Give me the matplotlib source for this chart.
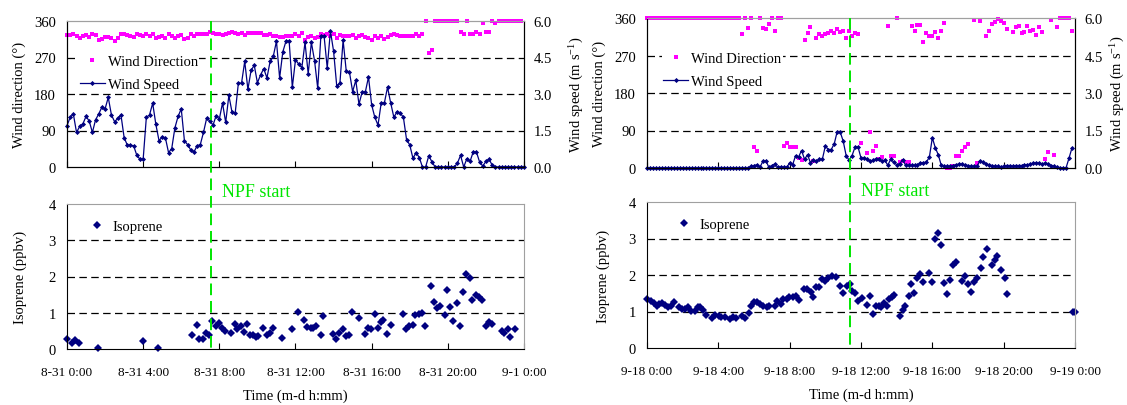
import numpy as np
import matplotlib as mpl
mpl.use('Agg')
import matplotlib.pyplot as plt
from matplotlib import transforms
from matplotlib.lines import Line2D

plt.rcParams['font.family'] = ['Liberation Serif', 'DejaVu Serif']
plt.rcParams['mathtext.fontset'] = 'custom'
plt.rcParams['mathtext.rm'] = 'Liberation Serif'
plt.rcParams['mathtext.it'] = 'Liberation Serif:italic'

# ---------------- data: 31 Aug (10-min wind data, 0:00 .. 24:00) ----------------
aug_speed = [
    1.70, 2.04, 2.18, 1.42, 1.67, 1.77, 2.08, 1.89, 1.42, 1.94,
    2.18, 2.46, 2.39, 2.86, 2.14, 1.86, 2.00, 2.14, 1.21, 0.90,
    0.90, 0.87, 0.48, 0.32, 0.32, 2.04, 2.14, 2.62, 1.75, 1.08,
    1.24, 1.20, 0.59, 0.76, 1.61, 2.08, 2.39, 1.08, 0.92, 0.70,
    0.62, 0.87, 0.92, 1.42, 2.00, 1.90, 1.72, 2.11, 1.97, 2.63,
    1.83, 2.94, 2.25, 2.22, 3.45, 3.45, 4.34, 3.19, 3.97, 4.18,
    3.46, 3.79, 4.04, 3.66, 4.34, 4.55, 5.17,
    3.66, 4.73, 5.17, 5.17, 3.28, 4.41, 4.23, 4.08, 5.12, 3.83,
    5.12, 4.37, 3.24, 5.39, 5.39, 4.07, 5.59, 4.76, 3.32, 3.46,
    5.21, 3.93, 3.90, 3.10, 3.56, 2.58, 3.08, 3.08, 3.70, 2.55,
    2.04, 1.72, 2.63, 2.63, 3.28, 2.63, 2.04, 2.28, 2.22, 2.04,
    1.12, 0.91, 0.36, 0.59, 0.39, 0.00, 0.00, 0.46, 0.21,
    0.00, 0.00, 0.00, 0.00, 0.00, 0.00, 0.00,
    0.15, 0.48, 0.00, 0.34, 0.23, 0.62, 0.62, 0.21, 0.04, 0.23, 0.32, 0.07,
    0.00, 0.00, 0.00, 0.00, 0.00, 0.00, 0.00, 0.00, 0.00, 0.00]

aug_dir = [
    325, 325, 329, 324, 319, 324, 325, 321, 329, 325,
    313, 315, 321, 321, 317, 310, 319, 329, 327, 325, 323,
    321, 327, 325, 324, 329, 324, 329, 319, 321, 324,
    319, 329, 322, 319, 324, 325, 315, 319, 327, 324, 328,
    329, 327, 329, 333, 330, 329, 329, 325, 329, 330,
    334, 330, 329, 330, 325, 331, 330, 330, 330, 330, 326,
    325, 327, 324, 324,
    321, 321, 324, 324, 324, 329, 324, 330, 313, 321, 322,
    319, 321, 327, 325, 327, 324, 327, 319, 325, 324,
    324, 324, 325, 319, 324, 326, 321, 319, 313, 324, 319,
    324, 315, 321, 325, 329, 325, 324, 324, 324, 324, 323,
    329, 324, 329,
    360, 280, 288,
    360, 360, 360, 360, 360, 360, 360, 360,
    333, 327, 360, 327, 329, 333, 327, 356, 333, 333, 360, 354,
    360, 360, 360, 360, 360, 360, 360, 360]

aug_iso_time = [
    0.00, 0.25, 0.42, 0.65, 1.61, 3.97, 4.79, 6.58, 6.81, 6.93,
    7.12, 7.28, 7.47, 7.61, 7.82, 7.96, 8.12, 8.29, 8.59, 8.82,
    8.94, 9.12, 9.29, 9.47, 9.61, 9.78, 9.92, 10.04, 10.31, 10.48,
    10.66, 10.83, 11.30, 11.80, 12.14, 12.44, 12.62, 12.79, 12.93, 13.07,
    13.32, 13.46, 13.95, 14.12, 14.30, 14.47, 14.65, 14.82, 14.96, 15.33,
    15.66, 15.82, 15.99, 16.15, 16.33, 16.47, 16.61, 16.78, 16.99, 17.66,
    17.80, 17.97, 18.15, 18.29, 18.46, 18.64, 18.81, 19.14, 19.28, 19.44,
    19.58, 19.83, 19.97, 20.14, 20.28, 20.49, 20.63, 20.81, 20.98, 21.16,
    21.29, 21.50, 21.64, 21.82, 22.00, 22.17, 22.31, 22.82, 22.94, 23.17,
    23.29, 23.52]
aug_iso = [
    0.27, 0.17, 0.24, 0.17, 0.03, 0.21, 0.03, 0.38, 0.65, 0.28,
    0.28, 0.45, 0.40, 0.76, 0.63, 0.72, 0.58, 0.51, 0.45, 0.70,
    0.54, 0.63, 0.47, 0.70, 0.39, 0.38, 0.33, 0.36, 0.58, 0.39,
    0.45, 0.58, 0.29, 0.54, 1.02, 0.81, 0.62, 0.58, 0.58, 0.63,
    0.38, 0.91, 0.42, 0.28, 0.45, 0.54, 0.36, 0.39, 1.02, 0.86,
    0.42, 0.58, 0.54, 0.96, 0.58, 0.74, 0.79, 0.42, 0.65, 0.96,
    0.56, 0.63, 0.65, 0.93, 0.96, 1.00, 0.63, 1.74, 1.29, 1.13,
    1.20, 0.93, 1.63, 1.15, 0.76, 1.28, 0.63, 1.56, 2.06, 1.95,
    1.34, 1.48, 1.43, 1.34, 0.63, 0.74, 0.70, 0.49, 0.45, 0.54,
    0.33, 0.54]

# ---------------- data: 18 Sep ----------------
sep_speed = [0.00] * 35 + [
    0.07, 0.10, 0.13, 0.03, 0.27, 0.29, 0.03, 0.10, 0.16, 0.03,
    0.05, 0.03, 0.03, 0.20, 0.13, 0.50, 0.44, 0.70, 0.35, 0.53,
    0.21, 0.32, 0.27, 0.35, 0.35, 0.88, 0.74, 0.74, 0.97, 1.46, 1.44,
    1.08, 0.50, 0.31, 0.50, 0.84, 0.84, 0.40, 0.40, 0.37, 0.27,
    0.31, 0.37, 0.35, 0.27, 0.32, 0.11, 0.35, 0.24, 0.13, 0.17,
    0.33, 0.11, 0.11, 0.11, 0.11, 0.11, 0.21, 0.21, 0.24, 0.43,
    1.21, 0.81, 0.53, 0.11,
    0.07, 0.07, 0.07, 0.10, 0.13, 0.16, 0.16, 0.13, 0.10, 0.07,
    0.07, 0.07, 0.28, 0.24, 0.17, 0.13, 0.10, 0.07, 0.07, 0.05,
    0.07, 0.10, 0.10, 0.07, 0.10, 0.10, 0.10, 0.13, 0.13, 0.16,
    0.20, 0.20, 0.20, 0.16, 0.20, 0.16, 0.10, 0.07, 0.04, 0.01,
    0.01, 0.01, 0.40, 0.81]

nan = np.nan
sep_dir = [360] * 32 + [
    321, 360, 335, 360, 50, 42, 360, 335, 333, 345,
    360, 330, 360, 360, 52, 61, 50, 50, 50, 24,
    20, 308, 324, 338, 16, 311, 322, 316, 321, 324,
    330, 324, 334, 327, 330, 313, 328, 316, 324, 321,
    61, nan, 37, 86, 41, 54, 22, 26, nan, 341,
    30, 29, 360, 14, 16, 14, 14, 341, 330, 344,
    344, 303, 324, 316, 316, 326, 312, 330, 348, 0,
    0, 6, 30, 30, 40, 50, 58, nan, 356, 13,
    352, nan, 318, 330, 346, 350, 358, 352, 348, 334,
    nan, 326, 338, 340, 324, 327, 340, 328, 332, 320,
    338, 327, 21, 38, 356, 32, 338, 360, 360, 360,
    360, 328, nan]

sep_iso_time = [
    0.02, 0.21, 0.39, 0.54, 0.69, 0.84, 1.03, 1.18, 1.33, 1.51,
    1.78, 1.96, 2.15, 2.30, 2.49, 2.67, 2.86, 2.97, 3.16, 3.31,
    3.64, 3.83, 4.02, 4.17, 4.36, 4.65, 4.80, 4.99, 5.33, 5.51,
    5.70, 5.85, 6.00, 6.19, 6.34, 6.52, 6.71, 6.86, 7.16, 7.31,
    7.50, 7.64, 7.83, 7.98, 8.21, 8.36, 8.50, 8.80, 8.99, 9.18,
    9.33, 9.48, 9.66, 9.81, 10.00, 10.15, 10.37, 10.60, 10.82, 11.01,
    11.20, 11.38, 11.50, 11.66, 11.85, 12.04, 12.32, 12.50, 12.65, 12.84,
    12.99, 13.14, 13.29, 13.44, 13.59, 13.74, 13.85, 14.19, 14.34, 14.49,
    14.67, 14.82, 14.97, 15.16, 15.31, 15.50, 15.79, 15.98, 16.17, 16.32,
    16.47, 16.65, 16.80, 16.99, 17.14, 17.33, 17.66, 17.81, 18.00, 18.18,
    18.36, 18.52, 18.71, 18.86, 19.05, 19.35, 19.50, 19.65, 19.83, 20.06,
    20.17, 23.90, 24.00]
sep_iso = [
    1.34, 1.29, 1.23, 1.16, 1.21, 1.23, 1.17, 1.11, 1.16, 1.26,
    1.11, 1.06, 1.06, 1.11, 1.01, 1.02, 1.11, 1.11, 1.05, 0.90,
    0.83, 0.90, 0.88, 0.86, 0.85, 0.79, 0.86, 0.83, 0.88, 0.83,
    0.95, 1.14, 1.27, 1.25, 1.20, 1.14, 1.11, 1.14, 1.14, 1.29,
    1.20, 1.35, 1.34, 1.41, 1.41, 1.43, 1.32, 1.61, 1.61, 1.54,
    1.39, 1.66, 1.66, 1.89, 1.83, 1.92, 1.98, 1.95, 1.71, 1.50,
    1.71, 1.75, 1.56, 1.52, 1.28, 1.36, 1.19, 1.43, 0.93, 1.14,
    1.16, 1.11, 1.23, 1.16, 1.34, 1.41, 1.45, 0.88, 1.05, 1.16,
    1.43, 1.75, 1.52, 1.91, 2.03, 1.80, 2.06, 1.82, 2.99, 3.16,
    2.83, 1.78, 1.47, 1.85, 2.28, 2.35, 1.84, 1.98, 1.76, 1.54,
    1.80, 1.93, 2.18, 2.50, 2.72, 2.28, 2.42, 2.53, 2.14, 1.93,
    1.49, 0.99, 0.99]

aug_ticks = ['8-31 0:00', '8-31 4:00', '8-31 8:00', '8-31 12:00',
             '8-31 16:00', '8-31 20:00', '9-1 0:00']
sep_ticks = ['9-18 0:00', '9-18 4:00', '9-18 8:00', '9-18 12:00',
             '9-18 16:00', '9-18 20:00', '9-19 0:00']
aug_npf = 7.58
sep_npf = 11.4

MAGENTA = '#FF00FF'
NAVY = '#000080'
GREEN = '#00E600'
GREY = '#A0A0A0'
W, H = 1127, 406


def frac(x0, y0, x1, y1):
    return [x0 / W, 1 - y1 / H, (x1 - x0) / W, (y1 - y0) / H]


def grid_lines(ax, levels):
    for v in levels:
        ax.axhline(v, color='black', lw=0.9, ls=(0, (6, 3.5)), zorder=0.5)


def style(ax, labels):
    ax.set_xlim(0, 24)
    ax.set_xticks(np.arange(0, 25, 4))
    ax.tick_params(axis='x', direction='in', length=4, width=0.8, pad=12,
                   labelsize=9.5)
    ax.tick_params(axis='y', length=0, pad=8, labelsize=10.5)
    ax.spines['top'].set_color(GREY)
    if labels is None:
        ax.set_xticklabels([])
    else:
        ax.set_xticklabels(labels)


def legend(ax, handles, anchor, spacing=0.55):
    return ax.legend(handles=handles, loc='upper left', bbox_to_anchor=anchor,
                     frameon=True, facecolor='white', edgecolor='none',
                     framealpha=1, fancybox=False, fontsize=10.5, numpoints=1,
                     handlelength=1.7, handletextpad=0.2, labelspacing=spacing,
                     borderpad=0.1, borderaxespad=0)


def panel(fig, xl, xr, top_y, bot_y, speed, direction, iso_t, iso, ticks, npf,
          leg_top, leg_bot, lab_x):
    ax = fig.add_axes(frac(xl, top_y[0], xr, top_y[1]))
    t = np.arange(len(speed)) / 6.0
    td = np.arange(len(direction)) / 6.0
    hd, = ax.plot(td, direction, ls='none', marker='s', ms=2.8, mec=MAGENTA,
                  mfc=MAGENTA, mew=0, label='Wind Direction', clip_on=False)
    ax.set_ylim(0, 360)
    ax.set_yticks([0, 90, 180, 270, 360])
    grid_lines(ax, [90, 180, 270])
    style(ax, None)
    ax.set_ylabel('Wind direction (°)', fontsize=10.5)
    ax.yaxis.set_label_coords(lab_x[0], 0.5)

    ax2 = ax.twinx()
    hs, = ax2.plot(t, speed, color=NAVY, lw=0.9, marker='D', ms=2.6, mew=0,
                   label='Wind Speed', clip_on=False)
    ax2.set_ylim(0, 6)
    ax2.set_yticks([0, 1.5, 3, 4.5, 6])
    ax2.set_yticklabels(['0.0', '1.5', '3.0', '4.5', '6.0'])
    ax2.tick_params(axis='y', length=0, pad=7, labelsize=10.5)
    ax2.spines['top'].set_color(GREY)
    ax2.set_ylabel('Wind speed (m s$^{-1}$)', fontsize=10.5)
    ax2.yaxis.set_label_coords(lab_x[1], 0.5)
    legend(ax2, [hd, hs], leg_top, spacing=0.7)

    bx = fig.add_axes(frac(xl, bot_y[0], xr, bot_y[1]))
    hi, = bx.plot(iso_t, iso, ls='none', marker='D', ms=4, color=NAVY, mew=0,
                  label='Isoprene', clip_on=False)
    bx.set_ylim(0, 4)
    bx.set_yticks([0, 1, 2, 3, 4])
    grid_lines(bx, [1, 2, 3])
    style(bx, ticks)
    bx.spines['right'].set_color(GREY)
    bx.set_ylabel('Isoprene (ppbv)', fontsize=10.5)
    bx.yaxis.set_label_coords(lab_x[2], 0.5)
    bx.set_xlabel('Time (m-d h:mm)', fontsize=10.5)
    bx.xaxis.set_label_coords(0.5, -0.27)
    legend(bx, [hi], leg_bot)

    # NPF start marker crossing both panels
    blend = transforms.blended_transform_factory(ax.transData, fig.transFigure)
    fig.add_artist(Line2D([npf, npf], [1 - top_y[0] / H, 1 - bot_y[1] / H],
                          transform=blend, color=GREEN, lw=1.4,
                          ls=(0, (6, 3))))
    mid = 1 - (top_y[1] + bot_y[0]) / 2 / H
    ax.annotate('NPF start', xy=(npf, mid), xycoords=blend, xytext=(8, -4),
                textcoords='offset points', color=GREEN, fontsize=13,
                va='center', ha='left', annotation_clip=False)


fig = plt.figure(figsize=(W / 100, H / 100), dpi=100)
panel(fig, 67, 524, (22, 168), (205, 350), aug_speed, aug_dir,
      aug_iso_time, aug_iso, aug_ticks, aug_npf,
      (0.025, 0.78), (0.035, 0.90), (-0.09, 1.096, -0.088))
panel(fig, 647, 1075, (19, 169), (203, 349), sep_speed, sep_dir,
      sep_iso_time, sep_iso, sep_ticks, sep_npf,
      (0.035, 0.785), (0.055, 0.90), (-0.096, 1.08, -0.086))
fig.savefig('out.png', dpi=100)
